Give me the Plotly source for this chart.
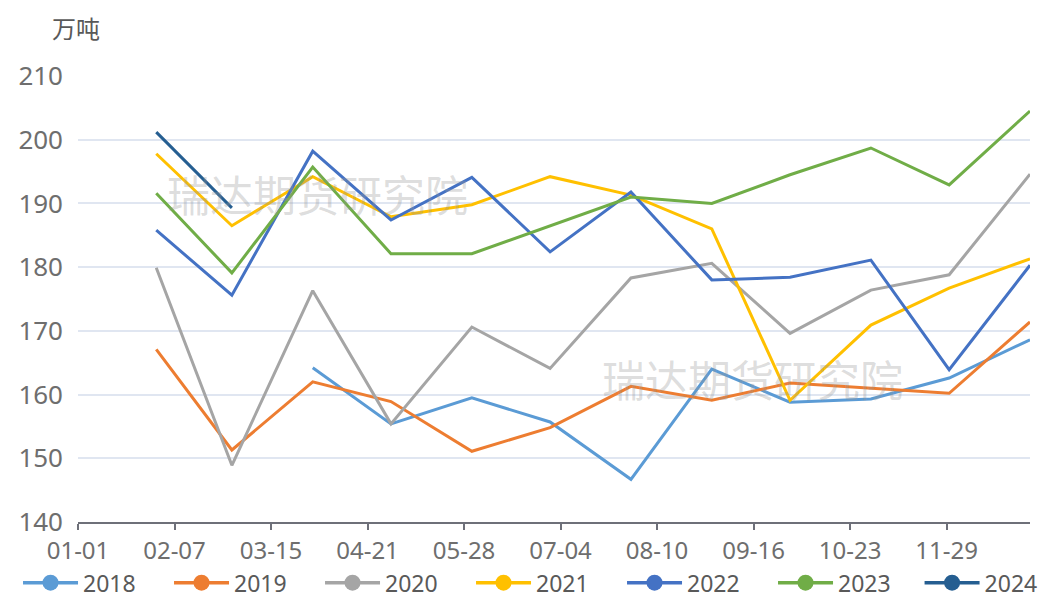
import plotly.graph_objects as go

months = ["2024-01-31", "2024-02-29", "2024-03-31", "2024-04-30", "2024-05-31", "2024-06-30",
          "2024-07-31", "2024-08-31", "2024-09-30", "2024-10-31", "2024-11-30", "2024-12-31"]

years = ["2018", "2019", "2020", "2021", "2022", "2023", "2024"]

v2018 = [None, None, 164.2, 155.4, 159.5, 155.7, 146.7, 164.0, 158.8, 159.3, 162.6, 168.6]
v2019 = [167.1, 151.3, 162.0, 158.9, 151.1, 154.8, 161.3, 159.1, 161.8, 161.0, 160.2, 171.4]
v2020 = [179.9, 148.9, 176.3, 155.4, 170.6, 164.1, 178.3, 180.6, 169.6, 176.4, 178.8, 194.6]
v2021 = [197.8, 186.5, 194.2, 187.9, 189.8, 194.2, 191.3, 186.0, 159.1, 170.9, 176.7, 181.3]
v2022 = [185.8, 175.6, 198.2, 187.4, 194.1, 182.4, 191.8, 178.0, 178.4, 181.1, 163.9, 180.3]
v2023 = [191.6, 179.1, 195.7, 182.1, 182.1, 186.5, 191.0, 190.0, 194.5, 198.7, 192.9, 204.5]
v2024 = [201.2, 189.3, None, None, None, None, None, None, None, None, None, None]

series = [v2018, v2019, v2020, v2021, v2022, v2023, v2024]
colors = ["#5B9BD5", "#ED7D31", "#A5A5A5", "#FFC000", "#4472C4", "#70AD47", "#255E91"]

fig = go.Figure()
for name, vals, c in zip(years, series, colors):
    fig.add_trace(go.Scatter(x=months, y=vals, mode="lines", name=name,
                             line=dict(color=c, width=3), showlegend=False))
for i, (name, c) in enumerate(zip(years, colors)):
    fig.add_trace(go.Scatter(x=[None], y=[None], mode="lines+markers", name=name,
                             line=dict(color=c, width=3.5),
                             marker=dict(color=c, size=16, symbol="circle"),
                             showlegend=True,
                             legend="legend2" if name == "2024" else "legend"))

font_fam = "Noto Sans, Noto Sans CJK SC, sans-serif"
cjk = "Noto Sans CJK SC, sans-serif"
tick_col = "#6E6E6E"

leg_common = dict(orientation="h", yanchor="top", y=-0.088,
                  entrywidth=81, entrywidthmode="pixels", itemwidth=55,
                  font=dict(size=23, color="#595959", family=font_fam),
                  itemsizing="trace", bgcolor="rgba(0,0,0,0)")

wm_font = dict(size=43, color="rgba(150,150,150,0.33)", family=cjk)

fig.update_layout(
    width=1057, height=599,
    margin=dict(l=78, r=27, t=76, b=77, autoexpand=False),
    paper_bgcolor="white", plot_bgcolor="white",
    font=dict(family=font_fam, color="#595959"),
    xaxis=dict(
        type="date",
        range=["2024-01-01", "2024-12-31"],
        tick0="2024-01-01", dtick=37 * 86400000,
        tickformat="%m-%d",
        showgrid=False,
        showline=True, linecolor="#6E7079", linewidth=2,
        ticks="outside", ticklen=6, tickcolor="#6E7079", tickwidth=2,
        tickfont=dict(size=24, color=tick_col),
        ticklabelstandoff=0,
        zeroline=False,
    ),
    yaxis=dict(
        range=[140, 210],
        tickvals=[140, 150, 160, 170, 180, 190, 200, 210],
        showgrid=True, gridcolor="#E0E6F1", gridwidth=1.5,
        showline=False, zeroline=False,
        tickfont=dict(size=26, color=tick_col),
        ticklabelstandoff=14,
    ),
    legend=dict(x=-0.063, xanchor="left", **leg_common),
    legend2=dict(x=0.884, xanchor="left", **leg_common),
    annotations=[
        dict(text="万吨", xref="paper", yref="paper", x=-0.002, y=1.108,
             xanchor="center", yanchor="middle",
             showarrow=False, font=dict(size=24, color="#595959", family=cjk)),
        dict(text="瑞达期货研究院", xref="paper", yref="paper", x=0.252, y=0.738,
             xanchor="center", yanchor="middle", showarrow=False, font=wm_font),
        dict(text="瑞达期货研究院", xref="paper", yref="paper", x=0.708, y=0.323,
             xanchor="center", yanchor="middle", showarrow=False, font=wm_font),
    ],
)

fig.write_html("out.html")
